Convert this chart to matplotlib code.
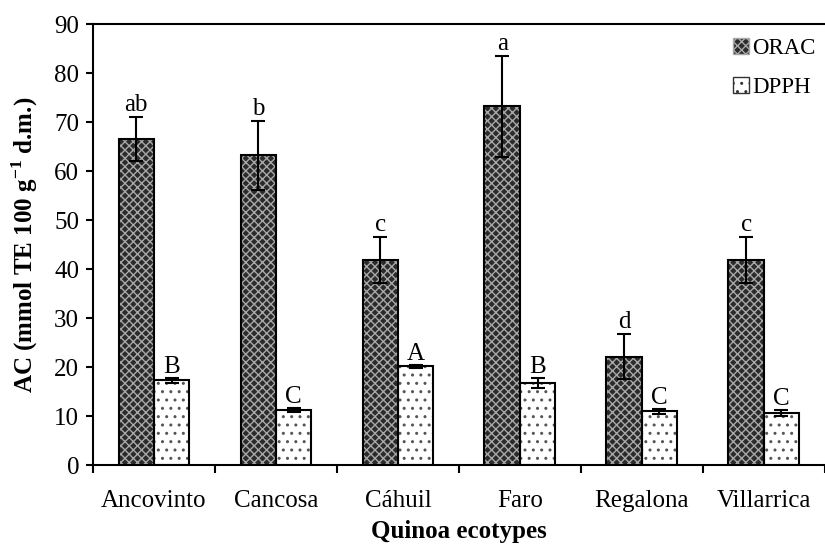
import numpy as np
import matplotlib
matplotlib.use('Agg')
import matplotlib.pyplot as plt
from matplotlib.patches import Patch

ecotypes = ['Ancovinto', 'Cancosa', 'Cáhuil', 'Faro', 'Regalona', 'Villarrica']
orac = [66.5, 63.2, 41.8, 73.2, 22.1, 41.8]
orac_err = [4.5, 7.1, 4.7, 10.3, 4.6, 4.7]
orac_letters = ['ab', 'b', 'c', 'a', 'd', 'c']
dpph = [17.3, 11.3, 20.2, 16.8, 11.0, 10.7]
dpph_err = [0.5, 0.4, 0.3, 1.0, 0.5, 0.6]
dpph_letters = ['B', 'C', 'A', 'B', 'C', 'C']

plt.rcParams['font.family'] = ['Liberation Serif', 'DejaVu Serif']
plt.rcParams['font.size'] = 18
plt.rcParams['hatch.linewidth'] = 1.0
plt.rcParams['mathtext.fontset'] = 'custom'
plt.rcParams['mathtext.rm'] = 'Liberation Serif'
plt.rcParams['mathtext.bf'] = 'Liberation Serif:bold'

fig = plt.figure(figsize=(8.25, 5.49), dpi=100)
ax = fig.add_axes([0.1127, 0.153, 0.887, 0.803])

x = np.arange(len(ecotypes))
w = 0.29

# base fill
ax.bar(x - w / 2, orac, w, color='#2b2b2b', linewidth=0, zorder=2)
ax.bar(x + w / 2, dpph, w, color='white', linewidth=0, zorder=2)
# hatch overlays
ax.bar(x - w / 2, orac, w, color='none', edgecolor='#a8a8a8', hatch='xxxx', linewidth=0, zorder=3)
ax.bar(x + w / 2, dpph, w, color='none', edgecolor='#555555', hatch='..', linewidth=0, zorder=3)
# outlines
ax.bar(x - w / 2, orac, w, color='none', edgecolor='black', linewidth=1.5, zorder=4)
ax.bar(x + w / 2, dpph, w, color='none', edgecolor='black', linewidth=1.5, zorder=4)

ax.errorbar(x - w / 2, orac, yerr=orac_err, fmt='none', ecolor='black',
            elinewidth=1.5, capsize=5, capthick=1.5, zorder=5)
ax.errorbar(x + w / 2, dpph, yerr=dpph_err, fmt='none', ecolor='black',
            elinewidth=1.5, capsize=5, capthick=1.5, zorder=5)

for i in range(len(ecotypes)):
    ax.text(x[i] - w / 2, orac[i] + orac_err[i] + 0.2, orac_letters[i],
            ha='center', va='bottom', fontsize=18)
    ax.text(x[i] + w / 2, dpph[i] + dpph_err[i] + 0.0, dpph_letters[i],
            ha='center', va='bottom', fontsize=18)

ax.set_ylim(0, 90)
ax.set_yticks(np.arange(0, 91, 10))
ax.set_xlim(-0.5, 5.45)
ax.set_xticks(np.arange(-0.5, 6, 1.0))
ax.set_xticklabels([])
ax.set_xticks(x, minor=True)
ax.set_xticklabels(ecotypes, minor=True)
ax.tick_params(axis='x', which='major', direction='out', length=6, width=1.5)
ax.tick_params(axis='x', which='minor', length=0, pad=18)
ax.tick_params(axis='y', direction='out', length=5, width=1.5, pad=5)

for s in ['left', 'bottom', 'top']:
    ax.spines[s].set_linewidth(1.5)
ax.spines['right'].set_visible(False)

ax.set_ylabel(r'AC (mmol TE 100 g$^{\mathbf{-1}}$ d.m.)', fontweight='bold', fontsize=18, labelpad=10)
ax.set_xlabel('Quinoa ecotypes', fontweight='bold', fontsize=18, labelpad=6)

handles = [Patch(facecolor='#2b2b2b', edgecolor='#a8a8a8', hatch='xxxx', linewidth=0),
           Patch(facecolor='white', edgecolor='#333333', hatch='..', linewidth=0)]
leg = ax.legend(handles, ['ORAC', 'DPPH'], loc='upper right', frameon=False,
                handlelength=0.7, handleheight=0.7, handletextpad=0.15,
                labelspacing=0.8, bbox_to_anchor=(1.0, 0.99), borderaxespad=0.0,
                fontsize=16.5)
for p in leg.get_patches():
    p.set_linewidth(1.0)

fig.savefig('out.png', dpi=100)
